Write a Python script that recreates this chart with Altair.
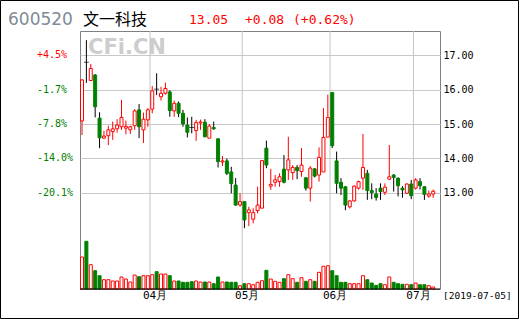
import altair as alt
import pandas as pd

# ---------------- data ----------------
stock_code = "600520"
stock_name = "文一科技"
last_price = "13.05"
change = "+0.08"
change_pct = "(+0.62%)"
watermark = "CFi.CN"

march = [8, 11, 12, 13, 14, 15, 18, 19, 20, 21, 22, 25, 26, 27, 28, 29]
april = [1, 2, 3, 4, 8, 9, 10, 11, 12, 15, 16, 17, 18, 19, 22, 23, 24, 25, 26, 29, 30]
may = [6, 7, 8, 9, 10, 13, 14, 15, 16, 17, 20, 21, 22, 23, 24, 27, 28, 29, 30, 31]
june = [3, 4, 5, 6, 10, 11, 12, 13, 14, 17, 18, 19, 20, 21, 24, 25, 26, 27, 28]
july = [1, 2, 3, 4, 5]

opens = [15.09, 16.79, 16.26, 16.42, 15.17, 14.59, 14.66, 14.78, 14.86, 14.92,
         14.88, 14.83, 14.95, 15.41, 14.83, 15.12, 15.43, 16.01, 15.79, 15.89,
         15.93, 15.38, 15.60, 15.31, 14.97, 14.90, 14.81, 15.03, 15.05, 14.59,
         14.90, 14.57, 13.90, 13.93, 13.61, 13.23, 12.65, 12.75, 12.43, 12.24,
         12.49, 12.56, 14.30, 13.20, 13.31, 13.33, 13.69, 13.67, 13.59, 13.74,
         13.62, 13.44, 13.14, 13.70, 13.52, 13.61, 14.62, 15.91, 13.93, 13.31,
         13.18, 12.60, 12.77, 13.14, 13.43, 13.57, 13.07, 12.97, 13.14, 13.02,
         13.40, 13.52, 13.43, 13.14, 12.99, 13.26, 13.14, 13.33, 13.18, 12.91,
         12.97]
highs = [16.28, 17.43, 16.74, 16.45, 15.34, 14.80, 14.95, 15.07, 15.14, 15.70,
         15.10, 14.95, 15.43, 15.58, 15.33, 15.46, 16.10, 16.47, 16.08, 16.20,
         15.98, 15.68, 15.65, 15.41, 15.19, 15.21, 15.12, 15.13, 15.14, 15.00,
         15.07, 14.59, 14.07, 14.00, 13.76, 13.43, 12.99, 12.75, 12.60, 12.56,
         13.18, 13.94, 14.52, 13.70, 13.52, 13.57, 14.10, 14.63, 13.81, 13.81,
         14.30, 13.46, 13.78, 13.72, 14.32, 15.46, 15.85, 15.93, 14.20, 13.43,
         13.20, 12.80, 13.22, 13.36, 14.71, 13.67, 13.28, 13.14, 13.28, 13.28,
         14.39, 13.55, 13.45, 13.20, 13.28, 13.38, 13.43, 13.43, 13.20, 13.07,
         13.10]
lows = [14.68, 16.19, 16.26, 15.19, 14.30, 14.57, 14.39, 14.54, 14.75, 14.83,
        14.70, 14.71, 14.83, 14.59, 14.45, 14.92, 15.31, 15.84, 15.68, 15.85,
        15.21, 15.21, 15.20, 14.92, 14.61, 14.73, 14.51, 14.83, 14.62, 14.59,
        14.83, 13.74, 13.78, 13.52, 12.99, 12.63, 12.60, 11.98, 12.04, 12.12,
        12.41, 12.56, 13.72, 13.09, 13.18, 13.18, 13.28, 13.38, 13.38, 13.40,
        13.47, 13.07, 12.75, 13.45, 13.33, 13.61, 14.62, 14.30, 12.99, 12.94,
        12.50, 12.55, 12.75, 13.10, 13.09, 12.80, 12.82, 12.78, 12.80, 12.94,
        13.38, 13.04, 12.90, 12.86, 12.99, 12.82, 13.10, 13.10, 12.80, 12.86,
        12.86]
closes = [16.28, 16.79, 16.61, 15.50, 14.60, 14.65, 14.83, 14.86, 14.97, 15.19,
          14.93, 14.92, 15.38, 14.92, 15.14, 15.41, 15.96, 16.01, 15.89, 16.03,
          15.39, 15.60, 15.31, 15.00, 14.76, 14.90, 15.04, 15.06, 14.63, 14.94,
          14.86, 13.91, 13.93, 13.57, 13.27, 12.65, 12.75, 12.22, 12.51, 12.43,
          12.65, 13.94, 13.81, 13.25, 13.38, 13.47, 13.31, 13.96, 13.74, 13.65,
          13.81, 13.14, 13.72, 13.49, 14.03, 14.61, 15.19, 14.37, 13.28, 13.14,
          12.65, 12.77, 13.20, 13.33, 13.74, 13.07, 13.01, 12.87, 13.04, 13.17,
          13.47, 13.45, 13.21, 13.09, 13.26, 12.92, 13.38, 13.21, 12.96, 12.97,
          13.05]
volumes = [32, 47.7, 24.3, 18.3, 13.3, 9.3, 9.3, 8, 8, 12,
           10, 7, 14, 12.3, 13.3, 13.3, 14.3, 17.3, 15, 15,
           13.3, 8, 8, 6.7, 6.7, 7.3, 8, 7, 7, 7,
           5.3, 12, 7, 7, 6.7, 6.7, 3.3, 5.3, 5.3, 4.3,
           6.7, 8.3, 18.7, 10, 7.7, 6.7, 10.3, 14.3, 10.3, 6.7,
           11.3, 7.7, 9.3, 7.7, 16.7, 22.7, 23.3, 18.3, 13.3, 6.7,
           6.7, 5.3, 5.3, 5.3, 13.3, 9.3, 6, 3.7, 5.3, 4.3,
           12, 6.7, 5.3, 4.7, 4.7, 4.3, 6, 4.3, 4.3, 3.3,
           2]

right_ticks = [17, 16, 15, 14, 13]
left_labels = ["+4.5%", "-1.7%", "-7.8%", "-14.0%", "-20.1%"]
month_names = ["04月", "05月", "06月", "07月"]

# ---------------- tables ----------------
dates = ([f"2019-03-{d:02d}" for d in march] + [f"2019-04-{d:02d}" for d in april] +
         [f"2019-05-{d:02d}" for d in may] + [f"2019-06-{d:02d}" for d in june] +
         [f"2019-07-{d:02d}" for d in july])

RED = "#ff0000"
GREEN = "#008000"
BLACK = "#000000"

df = pd.DataFrame({"i": list(range(len(dates))), "date": dates, "open": opens,
                   "high": highs, "low": lows, "close": closes, "vol": volumes})
df["dir"] = ["up" if c > o else ("down" if c < o else "flat") for o, c in zip(opens, closes)]
df["wick"] = df["dir"].map({"up": RED, "down": BLACK, "flat": BLACK})
df["bfill"] = df["dir"].map({"up": "#ffffff", "down": GREEN, "flat": BLACK})
df["bstroke"] = df["dir"].map({"up": RED, "down": GREEN, "flat": BLACK})
df["vfill"] = df["dir"].map({"up": "#ffffff", "down": GREEN, "flat": GREEN})
df["vstroke"] = df["dir"].map({"up": RED, "down": GREEN, "flat": GREEN})

month_pos = []
for k in range(1, len(dates)):
    if dates[k][5:7] != dates[k - 1][5:7]:
        month_pos.append(k - 0.5)
month_df = pd.DataFrame({"pos": month_pos, "label": month_names})

lbl_df = pd.DataFrame({"price": right_ticks, "label": left_labels})
lbl_df["col"] = [RED if s.startswith("+") else GREEN for s in left_labels]

one = pd.DataFrame({"k": [0]})

# ---------------- scales ----------------
xscale = alt.Scale(domain=[-0.4556, 81.55], nice=False, zero=False, padding=0)


def X(f):
    return alt.X(f"{f}:Q", scale=xscale, axis=None)


pscale = alt.Scale(domain=[10.217, 17.696], nice=False, zero=False, padding=0)
pax = alt.Axis(orient="right", values=right_ticks, format=".2f", grid=True,
               gridColor="#c8c8c8", gridWidth=1, domain=False, ticks=False,
               labelPadding=3, labelFont="DejaVu Sans Mono", labelFontSize=10,
               labelColor=BLACK, title=None)

# ---------------- layers ----------------
frame = alt.Chart(one).mark_rect(fillOpacity=0, stroke=BLACK, strokeWidth=1).encode(
    x=alt.value(-79.5), x2=alt.value(438.5), y=alt.value(-30.5), y2=alt.value(287.5))

wm = alt.Chart(one).mark_text(align="left", baseline="middle", font="DejaVu Sans",
                              fontWeight="bold", fontSize=21, color="#cdcdcd").encode(
    x=alt.value(8), y=alt.value(17), text=alt.value(watermark))

mrule = alt.Chart(month_df).mark_rule(color="#c4c4c4", strokeWidth=1).encode(x=X("pos"))

wicks = alt.Chart(df).mark_rule(strokeWidth=1).encode(
    x=X("i"), y=alt.Y("low:Q", scale=pscale, axis=pax), y2="high:Q",
    color=alt.Color("wick:N", scale=None))

bodies = alt.Chart(df).transform_filter("datum.dir != 'flat'").mark_bar(
    width=3, strokeWidth=1).encode(
    x=X("i"), y=alt.Y("open:Q", scale=pscale, axis=pax), y2="close:Q",
    fill=alt.Fill("bfill:N", scale=None), stroke=alt.Stroke("bstroke:N", scale=None))

dojis = alt.Chart(df).transform_filter("datum.dir == 'flat'").mark_tick(
    orient="horizontal", size=5, thickness=1, color=BLACK).encode(
    x=X("i"), y=alt.Y("open:Q", scale=pscale, axis=pax))

left_text = alt.Chart(lbl_df).mark_text(align="left", baseline="middle",
                                        font="DejaVu Sans Mono", fontSize=10).encode(
    x=alt.value(-43), y=alt.Y("price:Q", scale=pscale, axis=pax), text="label:N",
    color=alt.Color("col:N", scale=None))

price = alt.layer(wicks, bodies, dojis, left_text)

vol = alt.Chart(df).mark_bar(width=3, strokeWidth=1).encode(
    x=X("i"),
    y=alt.Y("vol:Q", scale=alt.Scale(domain=[0, 258], nice=False, zero=True, padding=0), axis=None),
    fill=alt.Fill("vfill:N", scale=None), stroke=alt.Stroke("vstroke:N", scale=None))

bottom = alt.Chart(one).mark_rule(color=BLACK, strokeWidth=1).encode(y=alt.value(258))

mtext = alt.Chart(month_df).mark_text(dx=5, baseline="middle", font="DejaVu Sans Mono",
                                      fontSize=11, color=BLACK).encode(
    x=X("pos"), y=alt.value(265), text="label:N")

date_text = alt.Chart(one).mark_text(align="left", baseline="middle", font="DejaVu Sans Mono",
                                     fontSize=9.5, color=BLACK).encode(
    x=alt.value(363), y=alt.value(265), text=alt.value(f"[{dates[-1]}]"))

t_code = alt.Chart(one).mark_text(align="left", baseline="middle", font="DejaVu Sans",
                                  fontSize=17, color="#7f8b97").encode(
    x=alt.value(-72), y=alt.value(-11.5), text=alt.value(stock_code))
t_name = alt.Chart(one).mark_text(align="left", baseline="middle", font="Noto Sans CJK SC",
                                  fontSize=16, color=BLACK).encode(
    x=alt.value(3), y=alt.value(-11.5), text=alt.value(stock_name))
t_price = alt.Chart(one).mark_text(align="left", baseline="middle", font="DejaVu Sans Mono",
                                   fontSize=13, color=RED).encode(
    x=alt.value(109), y=alt.value(-11), text=alt.value(last_price))
t_chg = alt.Chart(one).mark_text(align="left", baseline="middle", font="DejaVu Sans Mono",
                                 fontSize=13, color=RED).encode(
    x=alt.value(165), y=alt.value(-11), text=alt.value(change))
t_pct = alt.Chart(one).mark_text(align="left", baseline="middle", font="DejaVu Sans Mono",
                                 fontSize=13, color=RED).encode(
    x=alt.value(213), y=alt.value(-11), text=alt.value(change_pct))

chart = alt.layer(
    frame, wm, mrule, price, vol, bottom, mtext, date_text,
    t_code, t_name, t_price, t_chg, t_pct
).resolve_scale(y="independent").properties(
    width=360, height=258,
    padding={"left": 80, "top": 31, "right": 80, "bottom": 31},
    autosize=alt.AutoSizeParams(type="none"),
    background="#ffffff",
).configure_view(stroke="#808080", strokeWidth=1)

chart.save("out.html", embed_options={"renderer": "svg", "actions": False})
